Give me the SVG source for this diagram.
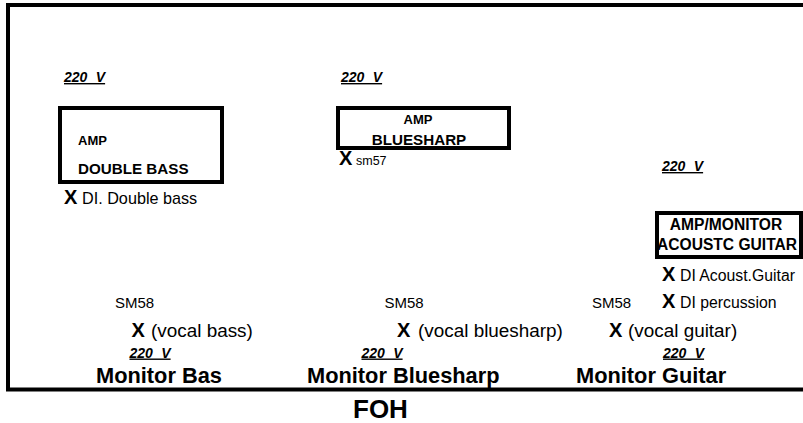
<svg xmlns="http://www.w3.org/2000/svg" width="803" height="423" viewBox="0 0 803 423">
<style>
text{font-family:"Liberation Sans",Arial,sans-serif;fill:#000}
.box{fill:none;stroke:#000;stroke-width:4}
.frame{fill:none;stroke:#000;stroke-width:4}
.pw{font-size:14px;font-weight:bold;font-style:italic;text-decoration:underline;word-spacing:4.5px}
.b13{font-size:13px;font-weight:bold}
.b15{font-size:15.2px;font-weight:bold}
.b155{font-size:15.6px;font-weight:bold}
.x{font-size:20px;font-weight:bold}
.lbl{font-size:15px}
.lbl16{font-size:16.2px}
.lbl2{font-size:15.8px}
.voc{font-size:18.9px}
.sm{font-size:12.5px}
.mon{font-size:21.8px;font-weight:bold}
.foh{font-size:26px;font-weight:bold}
</style>
<rect class="frame" x="8" y="5" width="805" height="384.5"/>
<g id="connectors"/>
<g id="amp-double-bass">
<text class="pw" x="64" y="82">220 V</text>
<rect class="box" x="60" y="108" width="162" height="74"/>
<text class="b13" x="78" y="145">AMP</text>
<text class="b15" x="78" y="174">DOUBLE BASS</text>
<text x="64" y="204"><tspan class="x">X</tspan><tspan class="lbl16" x="82">DI. Double bass</tspan></text>
</g>
<g id="amp-bluesharp">
<text class="pw" x="341" y="82">220 V</text>
<rect class="box" x="338" y="108" width="171" height="40"/>
<text class="b13" x="418" y="124" text-anchor="middle">AMP</text>
<text class="b15" x="419" y="145" text-anchor="middle">BLUESHARP</text>
<text x="339" y="165"><tspan class="x">X</tspan><tspan class="sm" x="356">sm57</tspan></text>
</g>
<g id="amp-acoustic-guitar">
<text class="pw" x="662" y="171">220 V</text>
<rect class="box" x="657" y="213" width="144" height="44"/>
<text class="b155" x="726" y="230" text-anchor="middle">AMP/MONITOR</text>
<text class="b155" x="657" y="250" font-size="16px">ACOUSTC GUITAR</text>
<text x="662" y="281"><tspan class="x">X</tspan><tspan class="lbl2" x="680">DI Acoust.Guitar</tspan></text>
<text x="662" y="308"><tspan class="x">X</tspan><tspan class="lbl2" x="680">DI percussion</tspan></text>
</g>
<g id="monitor-bas">
<text class="lbl" x="115" y="308">SM58</text>
<text x="131.5" y="337"><tspan class="x">X</tspan><tspan class="voc" x="151">(vocal bass)</tspan></text>
<text class="pw" x="129.5" y="357.5">220 V</text>
<text class="mon" x="96" y="383">Monitor Bas</text>
</g>
<g id="monitor-bluesharp">
<text class="lbl" x="384.5" y="308">SM58</text>
<text x="397" y="337"><tspan class="x">X</tspan><tspan class="voc" x="418">(vocal bluesharp)</tspan></text>
<text class="pw" x="361.5" y="357.5">220 V</text>
<text class="mon" x="307" y="383">Monitor Bluesharp</text>
</g>
<g id="monitor-guitar">
<text class="lbl" x="592" y="308">SM58</text>
<text x="609" y="337"><tspan class="x">X</tspan><tspan class="voc" x="628">(vocal guitar)</tspan></text>
<text class="pw" x="663" y="357.5">220 V</text>
<text class="mon" x="576" y="383">Monitor Guitar</text>
</g>
<g id="foh">
<text class="foh" x="353" y="418">FOH</text>
</g>
</svg>
